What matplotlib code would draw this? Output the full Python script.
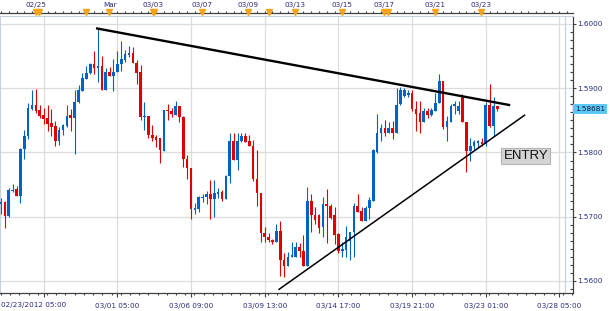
import matplotlib
matplotlib.use("Agg")
import matplotlib.pyplot as plt
import matplotlib.transforms as mtransforms
from matplotlib.ticker import MultipleLocator, FormatStrFormatter

# 4-hour candles
opens = [1.5720, 1.5723, 1.5701, 1.5740, 1.5743, 1.5733, 1.5805, 1.5826, 1.5868, 1.5874,
         1.5866, 1.5858, 1.5854, 1.5846, 1.5841, 1.5818, 1.5835, 1.5842, 1.5858, 1.5853,
         1.5878, 1.5896, 1.5915, 1.5924, 1.5937, 1.5932, 1.5935, 1.5898, 1.5926, 1.5919,
         1.5925, 1.5938, 1.5944, 1.5951, 1.5955, 1.5939, 1.5925, 1.5855, 1.5857, 1.5827,
         1.5824, 1.5822, 1.5803, 1.5866, 1.5865, 1.5859, 1.5872, 1.5855, 1.5790, 1.5776,
         1.5711, 1.5712, 1.5729, 1.5730, 1.5736, 1.5728, 1.5736, 1.5739, 1.5727, 1.5763,
         1.5818, 1.5788, 1.5818, 1.5826, 1.5818, 1.5810, 1.5759, 1.5737, 1.5675, 1.5669,
         1.5664, 1.5660, 1.5678, 1.5633, 1.5623, 1.5637, 1.5638, 1.5653, 1.5647, 1.5623,
         1.5725, 1.5702, 1.5703, 1.5684, 1.5720, 1.5717, 1.5702, 1.5673, 1.5647, 1.5649,
         1.5663, 1.5676, 1.5717, 1.5709, 1.5693, 1.5713, 1.5725, 1.5801, 1.5830, 1.5838,
         1.5830, 1.5838, 1.5831, 1.5875, 1.5888, 1.5889, 1.5893, 1.5867, 1.5862, 1.5848,
         1.5865, 1.5858, 1.5865, 1.5877, 1.5911, 1.5839, 1.5848, 1.5872, 1.5865, 1.5886,
         1.5848, 1.5803, 1.5810, 1.5814, 1.5817, 1.5813, 1.5874, 1.5842, 1.5872]
highs = [1.5729, 1.5725, 1.5744, 1.5751, 1.5748, 1.5807, 1.5835, 1.5877, 1.5898, 1.5899,
         1.5874, 1.5869, 1.5874, 1.5868, 1.5849, 1.5840, 1.5845, 1.5874, 1.5867, 1.5898,
         1.5905, 1.5924, 1.5935, 1.5939, 1.5958, 1.5992, 1.5950, 1.5931, 1.5933, 1.5946,
         1.5958, 1.5974, 1.5959, 1.5965, 1.5964, 1.5944, 1.5936, 1.5878, 1.5857, 1.5843,
         1.5827, 1.5822, 1.5866, 1.5876, 1.5870, 1.5880, 1.5872, 1.5857, 1.5796, 1.5776,
         1.5721, 1.5733, 1.5736, 1.5740, 1.5757, 1.5757, 1.5745, 1.5742, 1.5765, 1.5831,
         1.5831, 1.5831, 1.5831, 1.5831, 1.5827, 1.5820, 1.5804, 1.5737, 1.5684, 1.5674,
         1.5665, 1.5689, 1.5694, 1.5644, 1.5645, 1.5660, 1.5660, 1.5659, 1.5672, 1.5747,
         1.5736, 1.5715, 1.5704, 1.5730, 1.5743, 1.5720, 1.5715, 1.5674, 1.5660, 1.5686,
         1.5677, 1.5722, 1.5735, 1.5715, 1.5717, 1.5730, 1.5806, 1.5860, 1.5844, 1.5850,
         1.5848, 1.5849, 1.5901, 1.5902, 1.5901, 1.5897, 1.5897, 1.5880, 1.5880, 1.5870,
         1.5870, 1.5870, 1.5893, 1.5922, 1.5911, 1.5857, 1.5875, 1.5880, 1.5880, 1.5891,
         1.5848, 1.5823, 1.5819, 1.5820, 1.5823, 1.5878, 1.5906, 1.5887, 1.5873]
lows = [1.5704, 1.5682, 1.5699, 1.5738, 1.5733, 1.5721, 1.5790, 1.5821, 1.5866, 1.5862,
        1.5854, 1.5845, 1.5834, 1.5825, 1.5810, 1.5812, 1.5827, 1.5840, 1.5833, 1.5798,
        1.5877, 1.5895, 1.5914, 1.5922, 1.5922, 1.5910, 1.5898, 1.5898, 1.5919, 1.5896,
        1.5925, 1.5927, 1.5941, 1.5949, 1.5939, 1.5906, 1.5851, 1.5835, 1.5823, 1.5818,
        1.5809, 1.5784, 1.5803, 1.5850, 1.5855, 1.5859, 1.5847, 1.5778, 1.5758, 1.5697,
        1.5705, 1.5708, 1.5723, 1.5720, 1.5697, 1.5699, 1.5729, 1.5724, 1.5727, 1.5753,
        1.5788, 1.5773, 1.5817, 1.5817, 1.5810, 1.5755, 1.5717, 1.5661, 1.5661, 1.5660,
        1.5658, 1.5660, 1.5608, 1.5606, 1.5623, 1.5637, 1.5638, 1.5638, 1.5623, 1.5623,
        1.5676, 1.5689, 1.5674, 1.5668, 1.5659, 1.5696, 1.5657, 1.5643, 1.5637, 1.5637,
        1.5633, 1.5637, 1.5708, 1.5693, 1.5693, 1.5696, 1.5725, 1.5799, 1.5818, 1.5826,
        1.5830, 1.5821, 1.5831, 1.5874, 1.5886, 1.5886, 1.5865, 1.5834, 1.5831, 1.5847,
        1.5854, 1.5857, 1.5864, 1.5877, 1.5836, 1.5818, 1.5847, 1.5860, 1.5860, 1.5848,
        1.5769, 1.5787, 1.5804, 1.5808, 1.5810, 1.5810, 1.5839, 1.5826, 1.5864]
closes = [1.5723, 1.5701, 1.5742, 1.5742, 1.5733, 1.5806, 1.5826, 1.5869, 1.5874, 1.5865,
          1.5857, 1.5852, 1.5845, 1.5840, 1.5818, 1.5835, 1.5843, 1.5857, 1.5853, 1.5879,
          1.5898, 1.5916, 1.5924, 1.5937, 1.5932, 1.5935, 1.5898, 1.5926, 1.5919, 1.5926,
          1.5938, 1.5945, 1.5953, 1.5955, 1.5939, 1.5924, 1.5856, 1.5857, 1.5827, 1.5823,
          1.5820, 1.5804, 1.5866, 1.5864, 1.5860, 1.5872, 1.5855, 1.5790, 1.5776, 1.5712,
          1.5713, 1.5730, 1.5731, 1.5736, 1.5728, 1.5737, 1.5738, 1.5727, 1.5764, 1.5818,
          1.5788, 1.5818, 1.5826, 1.5817, 1.5810, 1.5758, 1.5737, 1.5675, 1.5668, 1.5664,
          1.5660, 1.5678, 1.5632, 1.5623, 1.5638, 1.5641, 1.5653, 1.5646, 1.5623, 1.5725,
          1.5702, 1.5695, 1.5682, 1.5720, 1.5716, 1.5698, 1.5672, 1.5647, 1.5650, 1.5668,
          1.5676, 1.5717, 1.5708, 1.5693, 1.5713, 1.5726, 1.5804, 1.5830, 1.5838, 1.5830,
          1.5838, 1.5831, 1.5874, 1.5898, 1.5897, 1.5893, 1.5867, 1.5860, 1.5848, 1.5865,
          1.5858, 1.5866, 1.5877, 1.5911, 1.5839, 1.5849, 1.5872, 1.5875, 1.5872, 1.5848,
          1.5803, 1.5810, 1.5817, 1.5818, 1.5813, 1.5874, 1.5842, 1.5872, 1.5867]

bottom_ticks = [11, 30, 49, 68, 87, 106, 125, 144]
bottom_labels = ["02/23/2012 05:00", "03/01 05:00", "03/06 09:00", "03/09 13:00",
                 "03/14 17:00", "03/19 21:00", "03/23 01:00", "03/28 05:00"]
top_ticks = [9.0, 28.1, 39.2, 51.8, 63.7, 75.8, 88.0, 98.8, 112.0, 123.8]
top_labels = ["02/25", "Mar", "03/03", "03/07", "03/09", "03/13", "03/15", "03/17", "03/21", "03/23"]
event_marks = [9.0, 9.8, 21.9, 27.9, 39.2, 39.5, 51.8, 63.7, 69.1, 75.8, 88.0, 98.8, 99.8, 112.0, 123.8]
price_ticks = [1.56, 1.57, 1.58, 1.59, 1.60]

upper_x = [24.8, 131.0]
upper_y = [1.5993, 1.5874]
lower_x = [71.7, 135.0]
lower_y = [1.5587, 1.5858]
last_price = 1.58681

BLUE = "#0062c4"
RED = "#e00000"
TXT = "#2b2b80"

fig = plt.figure(figsize=(6.1, 3.11), dpi=100)
ax = fig.add_axes([0, 18 / 311, 573 / 610, 277 / 311])

for i in range(len(opens)):
    o, h, l, c = opens[i], highs[i], lows[i], closes[i]
    col = BLUE if c >= o else RED
    ax.vlines(i, l, h, color=col, lw=0.8, zorder=3)
    ax.bar(i, max(abs(c - o), 0.00006), bottom=min(o, c), width=0.68, color=col, lw=0, zorder=3)

ax.plot(upper_x, upper_y, color="black", lw=1.7, zorder=4)
ax.plot(lower_x, lower_y, color="black", lw=1.1, zorder=4)

ax.set_xlim(-0.26, 147.5)
ax.set_ylim(1.55813, 1.601245)

ax.grid(True, color="#dcdcdc", lw=0.9)
ax.set_axisbelow(True)
ax.axvline(145.5, color="#c8d2de", lw=0.9)

for s in ["top", "left"]:
    ax.spines[s].set_color("#c8d2de")
for s in ["right", "bottom"]:
    ax.spines[s].set_color("#404040")
    ax.spines[s].set_linewidth(0.9)

ax.yaxis.tick_right()
ax.set_yticks(price_ticks)
ax.yaxis.set_major_formatter(FormatStrFormatter("%.4f"))
ax.yaxis.set_minor_locator(MultipleLocator(0.00125))
ax.tick_params(axis="y", which="major", direction="out", length=2.5, width=0.8,
               labelsize=5.2, labelcolor=TXT, pad=0.8, color="#404040")
ax.tick_params(axis="y", which="minor", direction="in", length=2.5, width=0.8, color="#404040")

ax.set_xticks(bottom_ticks, [""] + bottom_labels[1:])
ax.xaxis.set_minor_locator(MultipleLocator(19 / 8))
ax.tick_params(axis="x", which="major", direction="out", length=3, width=0.8,
               labelsize=5.2, labelcolor=TXT, pad=4, color="#404040")
ax.tick_params(axis="x", which="minor", direction="out", length=1.5, width=0.8, color="#404040")
fig.text(0.001, 1 - 305 / 311, bottom_labels[0], ha="left", va="center", fontsize=5.2, color=TXT)

top = ax.secondary_xaxis("top")
top.spines["top"].set_position(("outward", 2.2))
top.spines["top"].set_color("#404040")
top.spines["top"].set_linewidth(0.9)
top.set_xticks(top_ticks, top_labels)
top.xaxis.set_minor_locator(MultipleLocator(2))
top.tick_params(which="major", direction="out", length=2.5, width=0.8, labelsize=5.2,
                labelcolor=TXT, pad=1.2, color="#404040")
top.tick_params(which="minor", direction="out", length=1.5, width=0.8, color="#404040")

trans = mtransforms.blended_transform_factory(ax.transData, ax.transAxes)
ax.plot(event_marks, [1.016] * len(event_marks), transform=trans, ls="none", marker="v",
        ms=4, color="#f5a31a", clip_on=False, zorder=5)

ax.text(135.3, 1.5795, "ENTRY", ha="center", va="center", fontsize=9.5,
        family="Liberation Sans", color="#111111", zorder=6,
        bbox=dict(boxstyle="square,pad=0.15", facecolor="#d4d4d4", edgecolor="#b4b4b4", lw=0.8))

ytrans = mtransforms.blended_transform_factory(ax.transAxes, ax.transData)
ax.text(1.004, last_price, f"{last_price:.5f}", transform=ytrans, ha="left", va="center",
        fontsize=5.2, color="#1a1a3a", clip_on=False,
        bbox=dict(boxstyle="square,pad=0.25", facecolor="#5cc8f5", edgecolor="none"))

fig.savefig("out.png", dpi=100, facecolor="white")
